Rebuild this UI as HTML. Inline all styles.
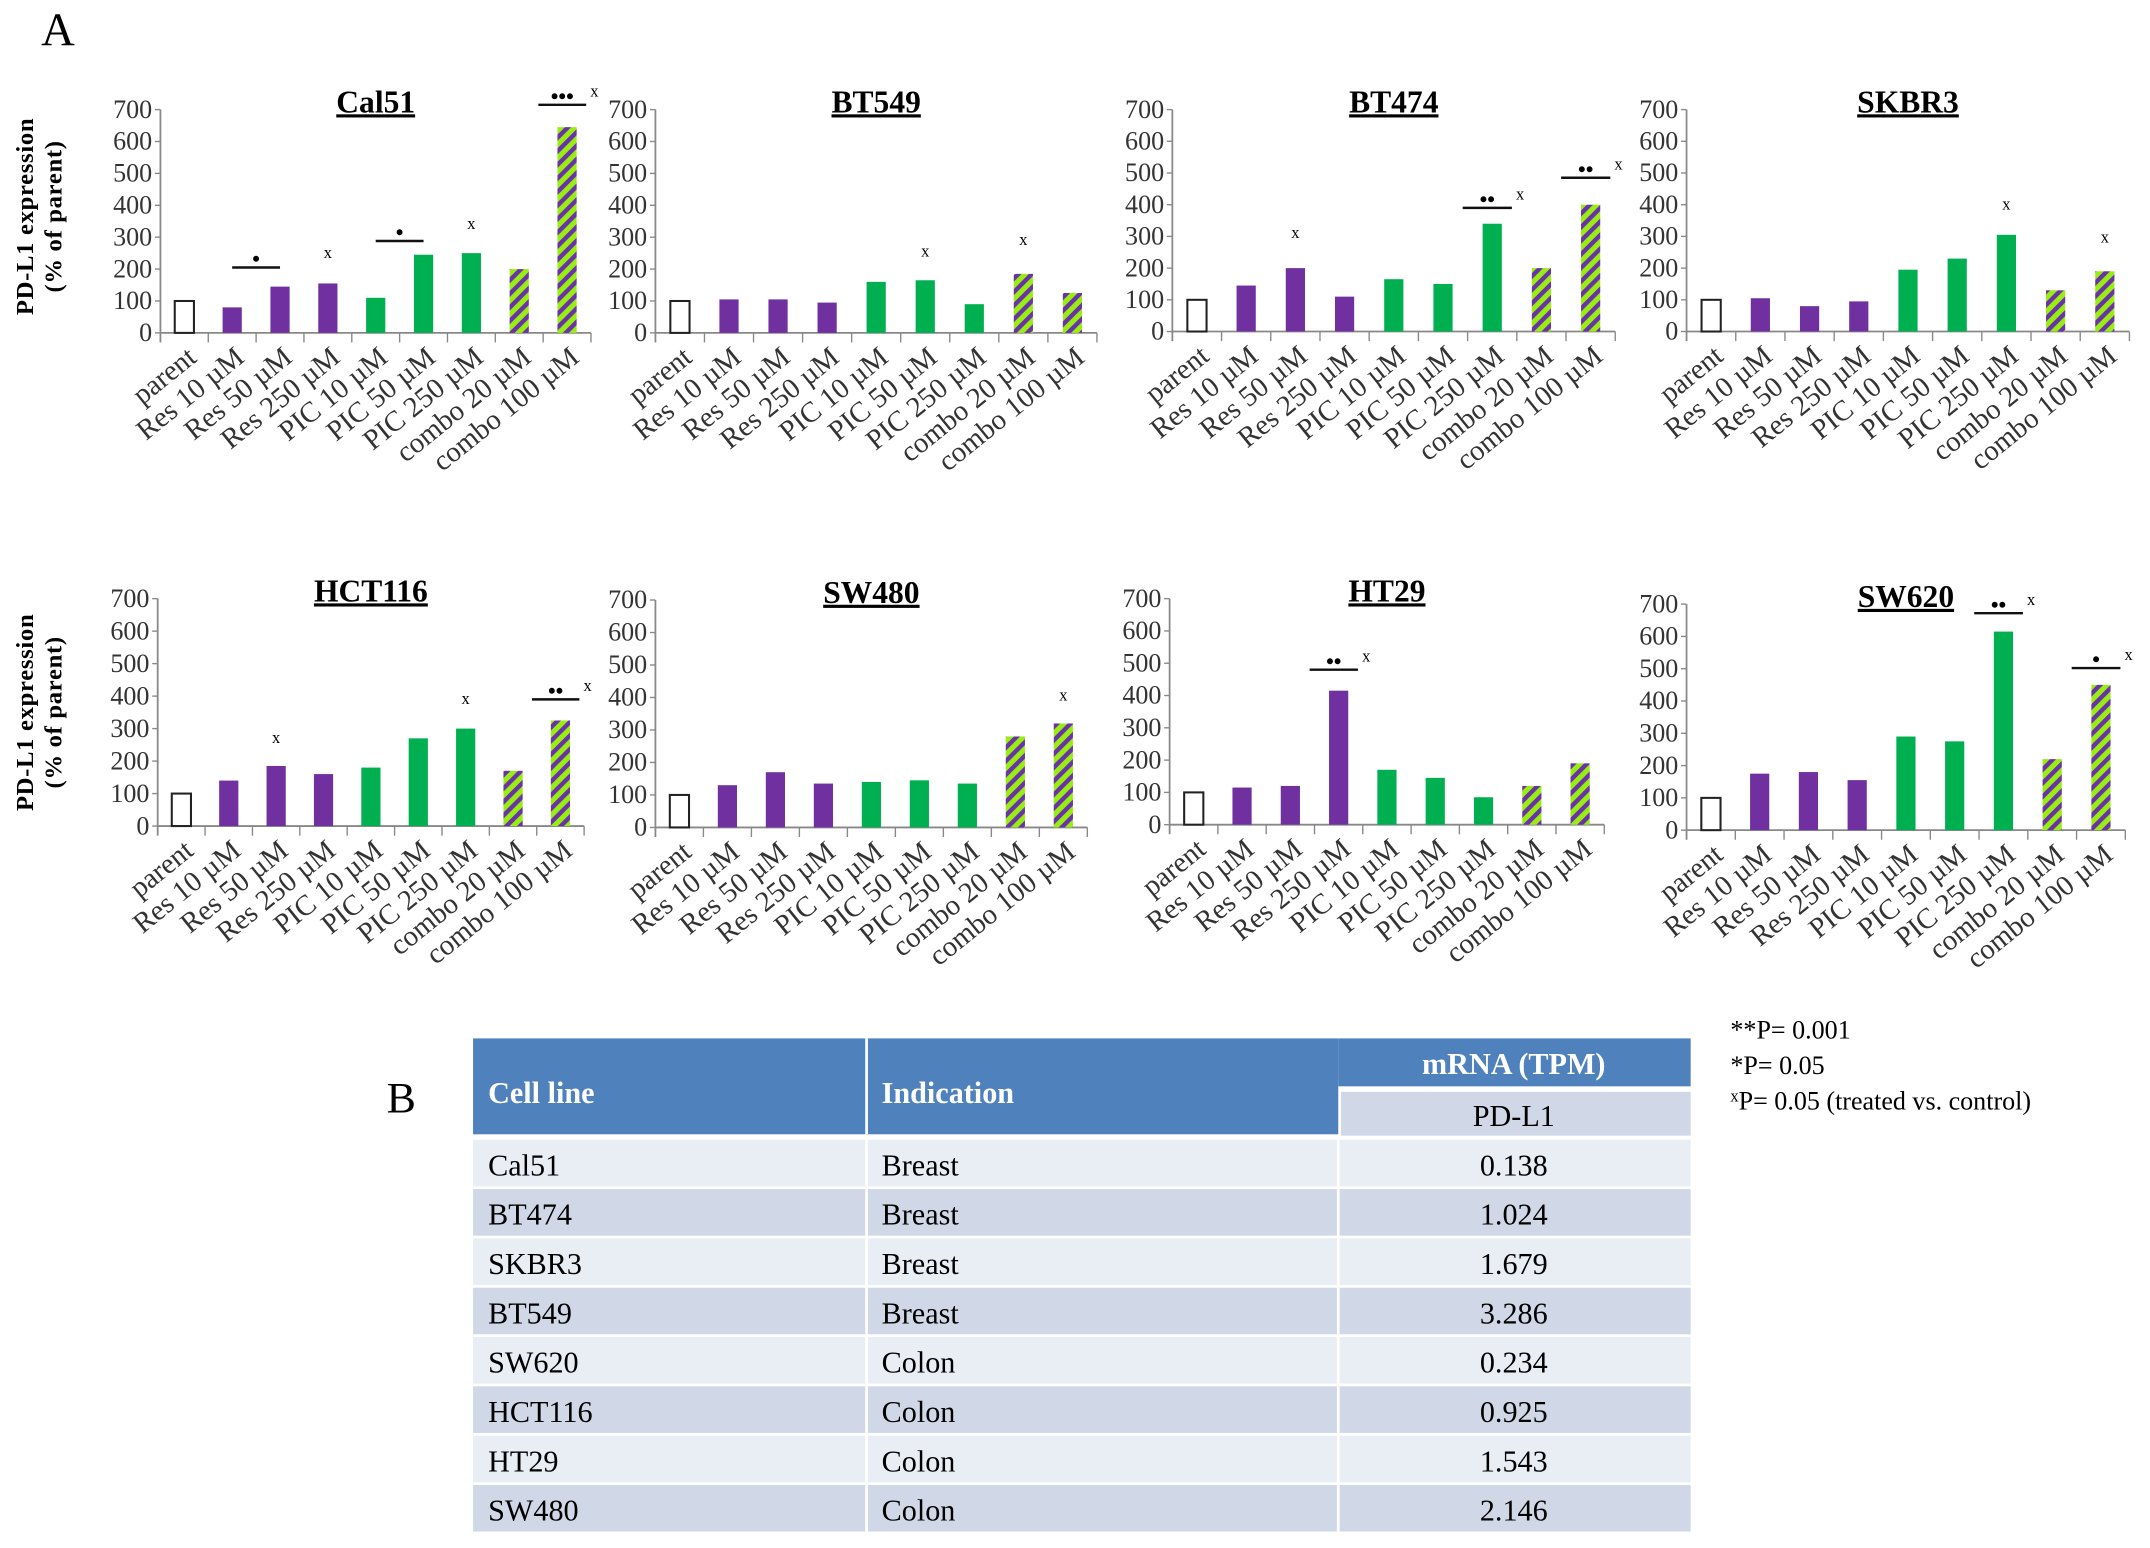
<!DOCTYPE html>
<html><head><meta charset="utf-8">
<style>
html,body{margin:0;padding:0;background:#fff;}
svg{display:block;}
text{font-family:"Liberation Serif",serif;}
</style></head>
<body>
<svg id="fig" width="2150" height="1548" viewBox="0 0 1568 1130" preserveAspectRatio="none" xmlns="http://www.w3.org/2000/svg">
<defs>
<pattern id="hatch" patternUnits="userSpaceOnUse" width="7" height="7" patternTransform="rotate(45)">
<rect width="7" height="7" fill="#99ee11"/><rect width="3.2" height="7" fill="#6a32a8"/>
</pattern>
</defs>
<text x="30" y="33" font-size="34">A</text>
<text x="282" y="812" font-size="32">B</text>
<g transform="translate(0,158) rotate(-90)">
<text x="0" y="24" font-size="18" font-weight="bold" text-anchor="middle" letter-spacing="0.5">PD-L1  expression</text>
<text x="0" y="45" font-size="18" font-weight="bold" text-anchor="middle" letter-spacing="0.5">(% of parent)</text>
</g>
<g transform="translate(0,520) rotate(-90)">
<text x="0" y="24" font-size="18" font-weight="bold" text-anchor="middle" letter-spacing="0.5">PD-L1  expression</text>
<text x="0" y="45" font-size="18" font-weight="bold" text-anchor="middle" letter-spacing="0.5">(% of parent)</text>
</g>
<g id="charts"></g>
<g font-size="19">
<text x="1262" y="758">**P= 0.001</text>
<text x="1262" y="784">*P= 0.05</text>
<text x="1262" y="810"><tspan font-size="12" dy="-6">x</tspan><tspan dy="6">P= 0.05  (treated vs. control)</tspan></text>
</g>
<g id="table"></g>
</svg>
<script>
const NS="http://www.w3.org/2000/svg";
const categories=["parent","Res 10 µM","Res 50 µM","Res 250 µM","PIC 10 µM","PIC 50 µM","PIC 250 µM","combo 20 µM","combo 100 µM"];
const panelNames=["Cal51","BT549","BT474","SKBR3","HCT116","SW480","HT29","SW620"];
const valsCal51=[100,80,145,155,110,245,250,200,645];
const valsBT549=[100,105,105,95,160,165,90,185,125];
const valsBT474=[100,145,200,110,165,150,340,200,400];
const valsSKBR3=[100,105,80,95,195,230,305,130,190];
const valsHCT116=[100,140,185,160,180,270,300,170,325];
const valsSW480=[100,130,170,135,140,145,135,280,320];
const valsHT29=[100,115,120,415,170,145,85,120,190];
const valsSW620=[100,175,180,155,290,275,615,220,450];
const yTicks=[0,100,200,300,400,500,600,700];
// annotations: [panelIndex, startCat, endCat, stars, hasX, level]
const annotations=[
[0,1,2,"*",false,205],[0,3,3,"",true,235],[0,4,5,"*",false,288],[0,6,6,"",true,325],[0,8,8,"***",true,715],
[1,5,5,"",true,240],[1,7,7,"",true,275],
[2,2,2,"",true,295],[2,6,6,"**",true,390],[2,8,8,"**",true,485],
[3,6,6,"",true,385],[3,8,8,"",true,280],
[4,2,2,"",true,255],[4,6,6,"",true,375],[4,8,8,"**",true,390],
[5,8,8,"",true,390],
[6,3,3,"**",true,480],
[7,6,6,"**",true,672],[7,8,8,"*",true,502]
];
const allVals=[valsCal51,valsBT549,valsBT474,valsSKBR3,valsHCT116,valsSW480,valsHT29,valsSW620];
const layouts=[
{x0:117,x1:431,yTop:80,y0:243},{x0:478,x1:800,yTop:80,y0:243},{x0:855,x1:1178,yTop:80,y0:242},{x0:1230,x1:1553,yTop:80,y0:242},
{x0:115,x1:426,yTop:437,y0:603},{x0:478,x1:793,yTop:438,y0:604},{x0:853,x1:1170,yTop:437,y0:602},{x0:1230,x1:1550,yTop:441,y0:606}
];
const root=document.getElementById('charts');
function mk(tag,attrs,parent){const e=document.createElementNS(NS,tag);for(const k in attrs)e.setAttribute(k,attrs[k]);parent.appendChild(e);return e;}
const fills=["#fff","#7030a0","#7030a0","#7030a0","#00b050","#00b050","#00b050","url(#hatch)","url(#hatch)"];
allVals.forEach((vals,p)=>{
  const L=layouts[p];
  const g=mk('g',{},root);
  
  
  const yS=v=>L.y0-(v/700)*(L.y0-L.yTop);
  const bw=(L.x1-L.x0)/categories.length;
  const xC=i=>L.x0+bw*(i+0.5);
  const t=mk('text',{x:(L.x0+L.x1)/2,y:L.yTop+2,'font-size':23,'font-weight':'bold','text-anchor':'middle','text-decoration':'underline'},g);
  t.textContent=panelNames[p];
  
  
  mk('line',{x1:L.x0,y1:L.yTop,x2:L.x0,y2:L.y0+7,stroke:'#888','stroke-width':1.3},g);
  mk('line',{x1:L.x0,y1:L.y0,x2:L.x1,y2:L.y0,stroke:'#888','stroke-width':1.3},g);
  yTicks.forEach(v=>{
    mk('line',{x1:L.x0-4,y1:yS(v),x2:L.x0,y2:yS(v),stroke:'#888'},g);
    const tt=mk('text',{x:L.x0-6,y:yS(v)+6,'font-size':19,'text-anchor':'end',fill:'#333'},g);
    tt.textContent=v;
    
    
  });
  categories.forEach((c,i)=>{
    mk('line',{x1:L.x0+bw*(i+1),y1:L.y0,x2:L.x0+bw*(i+1),y2:L.y0+7,stroke:'#888'},g);
    const bh=L.y0-yS(vals[i]);
    const r=mk('rect',{x:xC(i)-7,y:yS(vals[i]),width:14,height:bh,fill:fills[i],stroke:i==0?'#222':'none','stroke-width':1.5},g);
    
    
    const lx=xC(i)+10, ly=L.y0+20;
    const lt=mk('text',{x:lx,y:ly,'font-size':21,'text-anchor':'end',fill:'#333',transform:`rotate(-39 ${lx} ${ly})`},g);
    lt.textContent=c;
    
    
  });
  annotations.filter(a=>a[0]===p).forEach(a=>{
    const y=yS(a[5]);
    const ag=mk('g',{},g);
    
    
    if(a[3]){
      const xa=a[1]===a[2]?xC(a[1])-bw*0.6:xC(a[1]);
      const xb=a[1]===a[2]?xC(a[2])+bw*0.4:xC(a[2]);
      mk('line',{x1:xa,y1:y,x2:xb,y2:y,stroke:'#111','stroke-width':1.8},ag);
      const st=mk('text',{x:(xa+xb)/2,y:y-1,'font-size':16,'font-weight':'bold','text-anchor':'middle'},ag);
      st.textContent=a[3].replace(/\*/g,'•');
      if(a[4]){const xt=mk('text',{x:xb+3,y:y-6,'font-size':12},ag);xt.textContent='x';}
    } else if(a[4]){
      const xt=mk('text',{x:xC(a[1]),y:y,'font-size':12,'text-anchor':'middle'},ag);xt.textContent='x';
    }
  });
});
const tCells=["Cal51","BT474","SKBR3","BT549","SW620","HCT116","HT29","SW480"];
const tInd=["Breast","Breast","Breast","Breast","Colon","Colon","Colon","Colon"];
const tTPM=["0.138","1.024","1.679","3.286","0.234","0.925","1.543","2.146"];
const T=document.getElementById('table');
mk('rect',{x:345,y:758,width:631,height:70,fill:'#4f81bd'},T);
mk('line',{x1:632,y1:758,x2:632,y2:828,stroke:'#fff','stroke-width':2},T);
mk('rect',{x:976,y:758,width:257,height:35,fill:'#4f81bd'},T);
mk('rect',{x:978,y:797,width:255,height:32,fill:'#d0d8e8'},T);
[["Cell line",356,805],["Indication",643,805]].forEach(h=>{
  const e=mk('text',{x:h[1],y:h[2],'font-size':22,'font-weight':'bold',fill:'#fff'},T);e.textContent=h[0];
});
let e=mk('text',{x:1104,y:784,'font-size':22,'font-weight':'bold',fill:'#fff','text-anchor':'middle'},T);e.textContent="mRNA (TPM)";
e=mk('text',{x:1104,y:822,'font-size':22,'text-anchor':'middle'},T);e.textContent="PD-L1";
tCells.forEach((c,i)=>{
  const y=832+i*36;
  const row=mk('g',{},T);
  
  
  mk('rect',{x:345,y:y,width:888,height:34,fill:i%2?'#d0d8e8':'#e9edf4'},row);
  mk('line',{x1:632,y1:y,x2:632,y2:y+34,stroke:'#fff','stroke-width':2},row);
  mk('line',{x1:976,y1:y,x2:976,y2:y+34,stroke:'#fff','stroke-width':2},row);
  let t=mk('text',{x:356,y:y+26,'font-size':22},row);t.textContent=c;
  t=mk('text',{x:643,y:y+26,'font-size':22},row);t.textContent=tInd[i];
  t=mk('text',{x:1104,y:y+26,'font-size':22,'text-anchor':'middle'},row);t.textContent=tTPM[i];
});
</script>
</body></html>
